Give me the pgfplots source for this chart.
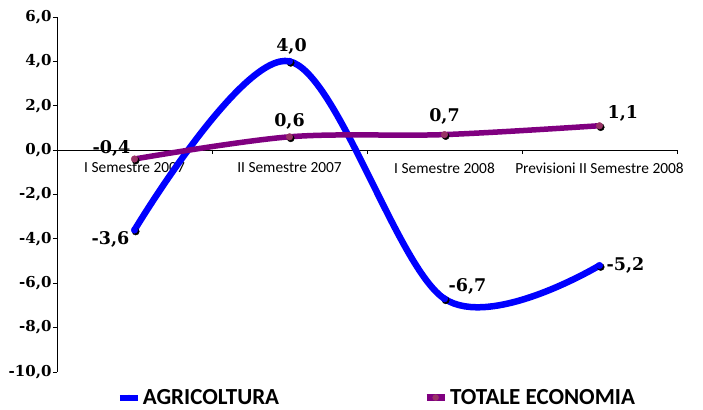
\documentclass[border=0pt]{standalone}
\usepackage{fontspec}
\usepackage{pgfplots}
\pgfplotsset{compat=1.18}
\setmainfont{Carlito}
\newfontfamily\numfont{DejaVu Serif}
\definecolor{agri}{HTML}{0000FF}
\definecolor{tot}{HTML}{800080}
\definecolor{totmark}{HTML}{993366}
\begin{document}
\begin{tikzpicture}
\useasboundingbox (0,0) rectangle (703pt,409pt);
\begin{axis}[
  at={(57pt,37pt)}, anchor=south west,
  scale only axis, width=620pt, height=355pt,
  xmin=0, xmax=4, ymin=-10, ymax=6,
  axis x line*=middle, axis y line*=left,
  axis line style={black, line width=0.8pt},
  xtick={1,2,3,4}, xticklabels={,,,},
  ytick={-10,-8,...,6},
  yticklabels={{-10,0},{-8,0},{-6,0},{-4,0},{-2,0},{0,0},{2,0},{4,0},{6,0}},
  yticklabel style={font=\numfont\bfseries\fontsize{15}{15}\selectfont, xshift=2pt},
  tick align=outside, major tick length=4pt,
  tick style={black, line width=0.8pt},
  extra x ticks={0.5,1.5,2.5,3.5},
  extra x tick labels={I Semestre 2007, II Semestre 2007, I Semestre 2008, Previsioni II Semestre 2008},
  extra x tick style={major tick length=0pt,
    xticklabel style={font=\fontsize{15.4}{15.4}\selectfont, yshift=-9pt}},
  clip=false,
  legend columns=2,
  legend style={draw=none, fill=none, at={(0.516,-0.072)}, anchor=center,
    font=\bfseries\fontsize{23}{23}\selectfont,
    /tikz/every even column/.append style={column sep=142pt}},
]
% blue series
\addplot[agri, line width=6.5pt, smooth, tension=0.55, forget plot]
  coordinates {(0.5,-3.6) (1.5,4.0) (2.5,-6.7) (3.5,-5.2)};
\addplot[only marks, mark=*, mark size=3.6pt, black, mark options={xshift=1.2pt, yshift=-1.5pt}, forget plot]
  coordinates {(0.5,-3.6) (1.5,4.0) (2.5,-6.7) (3.5,-5.2)};
\addplot[only marks, mark=*, mark size=3.3pt, agri, forget plot]
  coordinates {(0.5,-3.6) (1.5,4.0) (2.5,-6.7) (3.5,-5.2)};
% purple series
\addplot[tot, line width=5.5pt, smooth, tension=0.55, forget plot]
  coordinates {(0.5,-0.4) (1.5,0.6) (2.5,0.7) (3.5,1.1)};
\addplot[only marks, mark=*, mark size=3.6pt, black, mark options={xshift=1.2pt, yshift=-1.5pt}, forget plot]
  coordinates {(0.5,-0.4) (1.5,0.6) (2.5,0.7) (3.5,1.1)};
\addplot[only marks, mark=*, mark size=3.3pt, draw=totmark, fill=totmark, forget plot]
  coordinates {(0.5,-0.4) (1.5,0.6) (2.5,0.7) (3.5,1.1)};
% data labels
\begin{scope}[every node/.style={font=\numfont\bfseries\fontsize{17.5}{17.5}\selectfont, inner sep=1pt}]
\node[anchor=north east] at (axis cs:0.5,-3.6) [xshift=-4pt, yshift=0pt] {-3,6};
\node[anchor=south] at (axis cs:1.5,4.0) [xshift=2pt, yshift=6pt] {4,0};
\node[anchor=south west] at (axis cs:2.5,-6.7) [xshift=3pt, yshift=3pt] {-6,7};
\node[anchor=west] at (axis cs:3.5,-5.2) [xshift=6pt] {-5,2};
\node[anchor=south east] at (axis cs:0.5,-0.4) [xshift=-3pt, yshift=1pt] {-0,4};
\node[anchor=south] at (axis cs:1.5,0.6) [yshift=6pt] {0,6};
\node[anchor=south] at (axis cs:2.5,0.7) [yshift=9pt] {0,7};
\node[anchor=south west] at (axis cs:3.5,1.1) [xshift=7pt, yshift=3pt] {1,1};
\end{scope}
% legend
\addlegendimage{legend image code/.code={
  \draw[agri, line width=6pt] (0pt,0pt) -- (18pt,0pt);
  \fill[agri] (9pt,0pt) circle (2.5pt);}}
\addlegendentry{AGRICOLTURA}
\addlegendimage{legend image code/.code={
  \draw[tot, line width=7pt] (0pt,0pt) -- (18pt,0pt);
  \fill[totmark] (9pt,0pt) circle (3pt);}}
\addlegendentry{TOTALE ECONOMIA}
\end{axis}
\end{tikzpicture}
\end{document}
